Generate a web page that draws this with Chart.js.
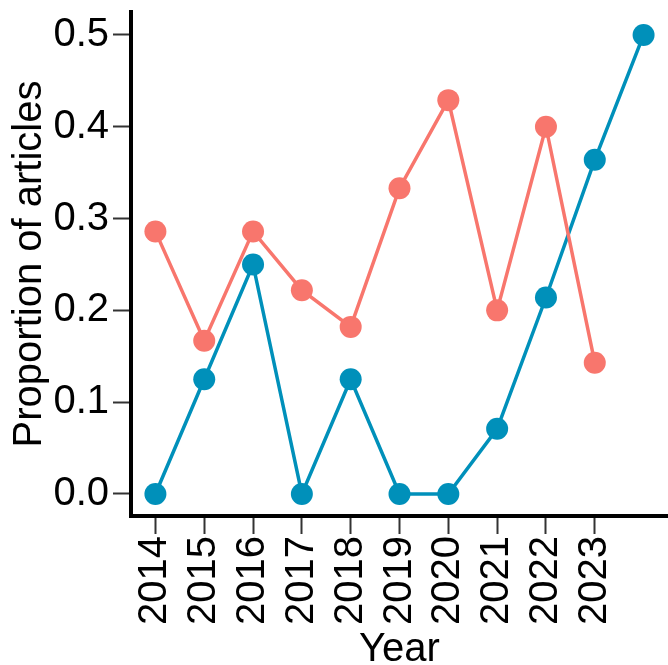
<!DOCTYPE html>
<html>
<head>
<meta charset="utf-8">
<script src="https://cdn.jsdelivr.net/npm/chart.js@4/dist/chart.umd.min.js"></script>
<style>
  html, body { margin: 0; padding: 0; background: #fff; }
  #wrap { width: 668px; height: 665px; }
</style>
</head>
<body>
<div id="wrap"><canvas id="myChart"></canvas></div>
<script>
// годы (последняя точка синей серии без подписи)
const years = ['2014', '2015', '2016', '2017', '2018', '2019', '2020', '2021', '2022', '2023', ''];
// красная серия
const redValues = [0.286, 0.167, 0.286, 0.222, 0.182, 0.333, 0.429, 0.2, 0.4, 0.143, null];
// синяя серия
const blueValues = [0, 0.125, 0.25, 0, 0.125, 0, 0, 0.071, 0.214, 0.364, 0.5];
const yTicks = [0, 0.1, 0.2, 0.3, 0.4, 0.5];

const font = 'Liberation Sans, Arial, sans-serif';

const ctx = document.getElementById('myChart');
const myChart = new Chart(ctx, {
  type: 'line',
  data: {
    labels: years,
    datasets: [{
      data: redValues,
      borderColor: '#F8766D',
      backgroundColor: '#F8766D',
      borderWidth: 3.5,
      pointRadius: 11,
      pointHoverRadius: 11,
      pointBorderWidth: 0
    }, {
      data: blueValues,
      borderColor: '#0090BA',
      backgroundColor: '#0090BA',
      borderWidth: 3.5,
      pointRadius: 11,
      pointHoverRadius: 11,
      pointBorderWidth: 0
    }]
  },
  options: {
    responsive: true,
    maintainAspectRatio: false,
    animation: false,
    layout: { autoPadding: false, padding: { top: 12, right: 0, left: 0, bottom: 0 } },
    plugins: { legend: { display: false }, tooltip: { enabled: false } },
    scales: {
      x: {
        offset: true,
        grid: {
          drawOnChartArea: false,
          tickLength: 18,
          tickWidth: 2,
          tickColor: c => c.index === 10 ? 'rgba(0,0,0,0)' : '#333'
        },
        border: { display: true, color: '#000', width: 4 },
        ticks: {
          color: '#000',
          font: { family: font, size: 40 },
          minRotation: 90,
          maxRotation: 90,
          autoSkip: false,
          padding: 2
        },
        title: {
          display: true,
          text: 'Year',
          color: '#000',
          font: { family: font, size: 40 },
          padding: { top: 0, bottom: -9 }
        },
        afterFit: s => { s.height = 149; s.paddingLeft = 0; s.paddingRight = 0; }
      },
      y: {
        min: -0.024,
        max: 0.525,
        grid: {
          drawOnChartArea: false,
          tickLength: 18,
          tickWidth: 2,
          tickColor: '#333'
        },
        border: { display: true, color: '#000', width: 4 },
        afterBuildTicks: s => { s.ticks = yTicks.map(v => ({ value: v })); },
        ticks: {
          color: '#000',
          font: { family: font, size: 40 },
          padding: 4,
          callback: v => Number(v).toFixed(1)
        },
        title: {
          display: true,
          text: 'Proportion of articles',
          color: '#000',
          font: { family: font, size: 40 },
          padding: { top: 6, bottom: 0 }
        },
        afterFit: s => { s.width = 131; s.paddingTop = 0; s.paddingBottom = 0; }
      }
    }
  }
});
</script>
</body>
</html>
